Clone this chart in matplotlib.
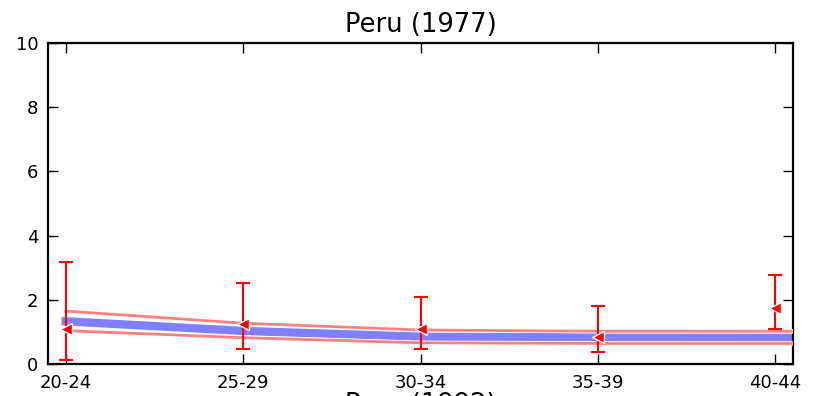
import matplotlib
matplotlib.use("Agg")
import matplotlib.pyplot as plt
import matplotlib.patheffects as pe
import numpy as np

categories = ["20-24", "25-29", "30-34", "35-39", "40-44"]
model_ages = ["20-24", "25-29", "30-34", "35-39", "40-44", "45-49"]
model_mean = [1.33, 1.03, 0.85, 0.83, 0.82, 0.81]
model_upper = [1.65, 1.27, 1.06, 1.02, 1.02, 1.01]
model_lower = [1.04, 0.82, 0.66, 0.64, 0.64, 0.63]
obs_value = [1.08, 1.25, 1.08, 0.83, 1.75]
obs_upper = [3.19, 2.53, 2.09, 1.82, 2.77]
obs_lower = [0.12, 0.46, 0.47, 0.38, 1.09]

title = "Peru (1977)"
xlabel = "Peru (1992)"

fig = plt.figure(figsize=(8.16, 3.96), dpi=100)
ax = fig.add_axes([48/816, 1 - 364/396, (793-48)/816, (364-43)/396])

x = np.arange(len(categories))
xm = np.arange(len(model_ages))
ax.plot(xm, model_mean, color="#8080ff", lw=6, solid_capstyle="projecting", zorder=2)
white_edge = [pe.Stroke(linewidth=3.2, foreground="white"), pe.Normal()]
ax.plot(xm, model_upper, color="#ff8080", lw=2, zorder=3, path_effects=white_edge)
ax.plot(xm, model_lower, color="#ff8080", lw=2, zorder=3, path_effects=white_edge)

val = np.array(obs_value)
yerr = np.vstack([val - np.array(obs_lower), np.array(obs_upper) - val])
ax.errorbar(x, val, yerr=yerr, fmt="none", ecolor="red", elinewidth=1.5,
            capsize=4.7, capthick=1.5, zorder=4)
ax.plot(x, val, linestyle="none", marker="<", markersize=9, color="red",
        markeredgecolor="white", markeredgewidth=1, zorder=5)

ax.set_xlim(-0.1, 4.1)
ax.set_ylim(0, 10)
ax.set_xticks(x)
ax.set_xticklabels(categories)
ax.set_yticks([0, 2, 4, 6, 8, 10])
ax.tick_params(direction="in", length=7, width=1, top=True, right=True,
               labelsize=13, pad=7)
for s in ax.spines.values():
    s.set_linewidth(1.6)
ax.set_title(title, fontsize=18.5, pad=8)
ax.set_xlabel(xlabel, fontsize=18.5, labelpad=0.5)

fig.savefig("out.png", dpi=100)
